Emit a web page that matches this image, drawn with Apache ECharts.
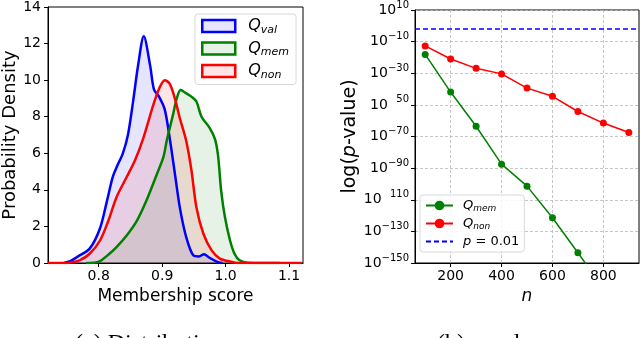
<!DOCTYPE html>
<html>
<head>
<meta charset="utf-8">
<script src="https://cdn.jsdelivr.net/npm/echarts@6/dist/echarts.min.js"></script>
<style>
  html, body { margin: 0; padding: 0; background: #fff; }
  #chart { width: 640px; height: 338px; }
</style>
</head>
<body>
<div id="chart"></div>
<script>
// left panel: density curves, [membership score, density]
const valCurve = [
  [0.745, 0], [0.755, 0.1], [0.766, 0.33], [0.786, 0.8], [0.802, 1.9], [0.813, 3.4],
  [0.822, 4.7], [0.829, 5.3], [0.838, 6.0], [0.846, 7.0], [0.854, 8.8], [0.862, 10.8],
  [0.871, 12.4], [0.881, 10.8], [0.887, 9.5], [0.895, 9.1], [0.904, 8.4], [0.912, 6.8],
  [0.92, 4.9], [0.928, 3.0], [0.938, 1.4], [0.949, 0.42], [0.958, 0.36], [0.966, 0.48],
  [0.974, 0.3], [0.986, 0.08], [0.995, 0]
];
const memCurve = [
  [0.78, 0], [0.795, 0.03], [0.802, 0.1], [0.815, 0.45], [0.828, 0.87], [0.844, 1.5],
  [0.86, 2.3], [0.875, 3.4], [0.891, 4.8], [0.902, 5.8], [0.907, 6.66], [0.917, 8.1],
  [0.923, 9.0], [0.929, 9.46], [0.938, 9.28], [0.946, 9.1], [0.954, 8.83], [0.962, 8.0],
  [0.975, 7.38], [0.983, 6.8], [0.988, 5.9], [0.993, 3.95], [0.999, 2.5], [1.007, 1.23],
  [1.014, 0.51], [1.022, 0.15], [1.035, 0.02], [1.085, 0]
];
const nonCurve = [
  [0.72, 0], [0.75, 0], [0.76, 0.05], [0.77, 0.15], [0.786, 0.52], [0.802, 1.23],
  [0.815, 2.3], [0.828, 3.6], [0.844, 4.7], [0.857, 5.6], [0.87, 6.8], [0.886, 8.65],
  [0.896, 9.6], [0.904, 10.0], [0.912, 9.8], [0.92, 9.0], [0.928, 7.9], [0.938, 6.66],
  [0.946, 5.1], [0.954, 3.04], [0.965, 1.6], [0.978, 0.69], [0.991, 0.24], [1.007, 0.08],
  [1.02, 0], [1.12, 0]
];
const scoreTicks = [0.8, 0.9, 1.0, 1.1];

// right panel: log10(p-value) against n
const nRange = [60, 940];
const nValues = [100, 200, 300, 400, 500, 600, 700, 800, 900];
const memLogP = [-18.1, -41.9, -63.5, -87.5, -101.4, -121.4, -143.5, -166];
const nonLogP = [-12.7, -21, -26.9, -30.4, -39.4, -44.6, -54.2, -61.5, -67.5];
const nTicks = [200, 400, 600, 800];
const logTicks = [-150, -130, -110, -90, -70, -50, -30, -10, 10];
const hiddenMinus = [-50, -110]; // these labels lost their minus sign in the original
const pThreshold = 0.01;

const font = 'DejaVu Sans';
const blue = '#0000ff', green = '#008000', red = '#ff0000';

const legendText = {
  kdeVal: '{q|Q}{s|val}', kdeMem: '{q|Q}{s|mem}', kdeNon: '{q|Q}{s|non}',
  pMem: '{q|Q}{s|mem}', pNon: '{q|Q}{s|non}', pLine: '{q|p}{t| = 0.01}'
};

function kdeSeries(name, data, color) {
  return {
    name, type: 'line', xAxisIndex: 0, yAxisIndex: 0, data,
    smooth: 0.3, symbol: 'none', silent: true,
    lineStyle: { color, width: 2.5 }, itemStyle: { color },
    areaStyle: { color, opacity: 0.1 }
  };
}

function pSeries(name, ys, color) {
  return {
    name, type: 'line', xAxisIndex: 1, yAxisIndex: 1,
    data: ys.map((y, i) => [nValues[i], y]),
    symbol: 'circle', symbolSize: 7, silent: true, z: 3,
    lineStyle: { color, width: 1.5 }, itemStyle: { color }
  };
}

const tickLabel = { color: '#000', fontFamily: font, fontSize: 14 };
const gridLine = { show: true, lineStyle: { color: '#b8b8b8', width: 0.8, type: [3, 2] } };

const option = {
  animation: false,
  grid: [
    { left: 48, top: 5, width: 255, height: 258, show: true, borderColor: '#000', borderWidth: 1 },
    { left: 415, top: 7, width: 224, height: 256, show: true, borderColor: '#000', borderWidth: 1 }
  ],
  xAxis: [
    {
      type: 'value', gridIndex: 0, min: 0.72, max: 1.122,
      axisLine: { onZero: false, lineStyle: { color: '#000' } },
      axisTick: { length: 4, customValues: scoreTicks, lineStyle: { color: '#000' } },
      axisLabel: { ...tickLabel, margin: 6, customValues: scoreTicks, formatter: v => v.toFixed(1) },
      splitLine: { show: false },
      name: 'Membership score', nameLocation: 'middle', nameGap: 21,
      nameTextStyle: { color: '#000', fontFamily: font, fontSize: 17 }
    },
    {
      type: 'value', gridIndex: 1, min: nRange[0], max: nRange[1],
      axisLine: { onZero: false, lineStyle: { color: '#000' } },
      axisTick: { length: 4, customValues: nTicks, lineStyle: { color: '#000' } },
      axisLabel: { ...tickLabel, margin: 6, customValues: nTicks },
      splitLine: gridLine,
      name: 'n', nameLocation: 'middle', nameGap: 22,
      nameTextStyle: { color: '#000', fontFamily: font, fontSize: 17, fontStyle: 'italic' }
    }
  ],
  yAxis: [
    {
      type: 'value', gridIndex: 0, min: 0, max: 14, interval: 2,
      axisLine: { show: true, onZero: false, lineStyle: { color: '#000' } },
      axisTick: { show: true, length: 4, lineStyle: { color: '#000' } },
      axisLabel: { ...tickLabel, margin: 7 },
      splitLine: { show: false },
      name: 'Probability Density', nameLocation: 'middle', nameGap: 26,
      nameTextStyle: { color: '#000', fontFamily: font, fontSize: 18 }
    },
    {
      type: 'value', gridIndex: 1, min: -150, max: 10,
      axisLine: { show: true, onZero: false, lineStyle: { color: '#000' } },
      axisTick: { show: true, length: 4, customValues: logTicks, lineStyle: { color: '#000' } },
      axisLabel: {
        customValues: logTicks, margin: 6, color: '#000', fontFamily: font,
        formatter: v => hiddenMinus.includes(v)
          ? `{b|10}{h|−}{s|${-v}}`
          : `{b|10}{s|${v < 0 ? '−' : ''}${Math.abs(v)}}`,
        rich: {
          b: { fontFamily: font, fontSize: 14, lineHeight: 20, color: '#000' },
          s: { fontFamily: font, fontSize: 10, lineHeight: 12, verticalAlign: 'top', color: '#000' },
          h: { fontFamily: font, fontSize: 10, lineHeight: 12, verticalAlign: 'top', color: 'rgba(0,0,0,0)' }
        }
      },
      splitLine: gridLine,
      name: '{n|log(}{i|p}{n|-value)}', nameLocation: 'middle', nameGap: 55,
      nameTextStyle: {
        color: '#000', fontFamily: font, fontSize: 19,
        rich: {
          n: { fontFamily: font, fontSize: 19, color: '#000' },
          i: { fontFamily: font, fontSize: 19, fontStyle: 'italic', color: '#000' }
        }
      }
    }
  ],
  legend: [
    {
      orient: 'vertical', left: 195, top: 14, z: 10,
      padding: [4, 7, 4, 6], itemWidth: 33, itemHeight: 12, itemGap: 5,
      backgroundColor: 'rgba(255,255,255,0.85)', borderColor: '#d8d8d8', borderWidth: 1, borderRadius: 3,
      selectedMode: false,
      data: [
        { name: 'kdeVal', icon: 'rect', itemStyle: { color: 'rgba(0,0,255,0.1)', borderColor: blue, borderWidth: 2.5 } },
        { name: 'kdeMem', icon: 'rect', itemStyle: { color: 'rgba(0,128,0,0.1)', borderColor: green, borderWidth: 2.5 } },
        { name: 'kdeNon', icon: 'rect', itemStyle: { color: 'rgba(255,0,0,0.1)', borderColor: red, borderWidth: 2.5 } }
      ],
      formatter: name => legendText[name],
      textStyle: {
        rich: {
          q: { fontFamily: font, fontSize: 16, fontStyle: 'italic', lineHeight: 19, padding: [0, 0, 0, 8], color: '#000' },
          s: { fontFamily: font, fontSize: 11, fontStyle: 'italic', lineHeight: 13, verticalAlign: 'bottom', color: '#000' }
        }
      }
    },
    {
      orient: 'vertical', left: 420, top: 195, z: 10,
      padding: [4, 5, 4, 5], itemWidth: 27, itemHeight: 12, itemGap: 4,
      backgroundColor: 'rgba(255,255,255,0.85)', borderColor: '#d8d8d8', borderWidth: 1, borderRadius: 3,
      selectedMode: false,
      data: [
        'pMem', 'pNon',
        { name: 'pLine', itemStyle: { color: 'rgba(0,0,0,0)', borderColor: 'rgba(0,0,0,0)', borderWidth: 0 } }
      ],
      formatter: name => legendText[name],
      textStyle: {
        rich: {
          q: { fontFamily: font, fontSize: 13, fontStyle: 'italic', lineHeight: 15, padding: [0, 0, 0, 5], color: '#000' },
          s: { fontFamily: font, fontSize: 9, fontStyle: 'italic', lineHeight: 11, verticalAlign: 'bottom', color: '#000' },
          t: { fontFamily: font, fontSize: 13, lineHeight: 15, color: '#000' }
        }
      }
    }
  ],
  graphic: [
    { type: 'text', x: 75, y: 344, silent: true,
      style: { text: '(a) Distribution', font: '24px "Liberation Serif"', fill: '#000', verticalAlign: 'middle' } },
    { type: 'text', x: 437, y: 344, silent: true,
      style: { text: '(b) p-value', font: '24px "Liberation Serif"', fill: '#000', verticalAlign: 'middle' } }
  ],
  series: [
    kdeSeries('kdeVal', valCurve, blue),
    kdeSeries('kdeMem', memCurve, green),
    kdeSeries('kdeNon', nonCurve, red),
    pSeries('pMem', memLogP, green),
    pSeries('pNon', nonLogP, red),
    {
      name: 'pLine', type: 'line', xAxisIndex: 1, yAxisIndex: 1,
      data: nRange.map(n => [n, Math.log10(pThreshold)]),
      symbol: 'none', showSymbol: false, silent: true, z: 2,
      lineStyle: { color: blue, width: 1.5, type: [5, 3] }, itemStyle: { color: blue }
    }
  ]
};

const chart = echarts.init(document.getElementById('chart'));
chart.setOption(option);
</script>
</body>
</html>
